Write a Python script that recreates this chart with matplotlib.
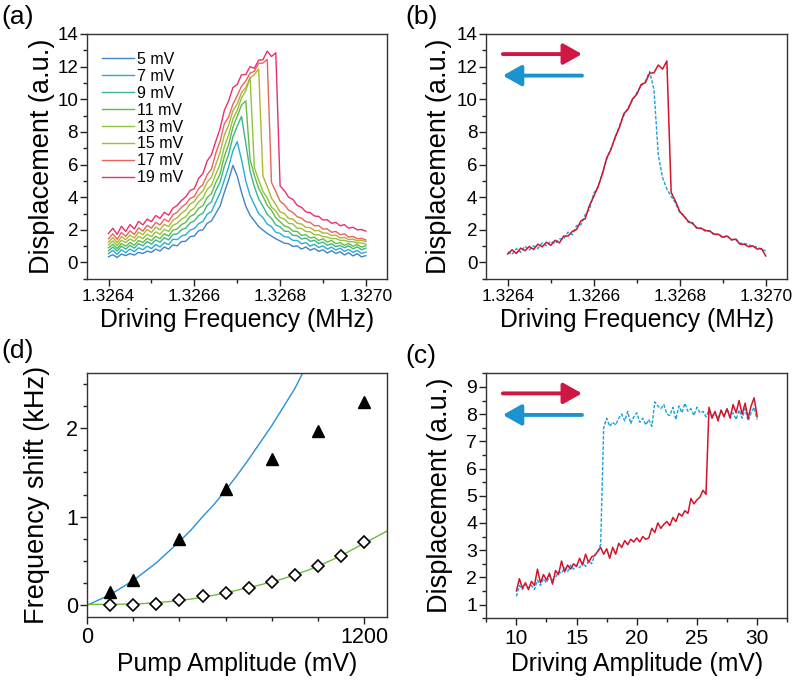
import numpy as np
import matplotlib
matplotlib.use('Agg')
import matplotlib.pyplot as plt
from matplotlib.ticker import MultipleLocator, FixedLocator, FormatStrFormatter

plt.rcParams['font.family'] = ['Liberation Sans', 'DejaVu Sans']
plt.rcParams['axes.linewidth'] = 1.0

# ---------------- data ----------------
freq_mhz = np.round(np.linspace(1.3264, 1.3270, 61), 6)

drive_labels = ['5 mV', '7 mV', '9 mV', '11 mV', '13 mV', '15 mV', '17 mV', '19 mV']
drive_colors = ['#4383c6', '#27aed3', '#3db587', '#62bb46', '#8ec53c', '#b3b333', '#e8655a', '#ea2f6c']

disp_5mV = [0.35, 0.48, 0.30, 0.52, 0.42, 0.55, 0.45, 0.62, 0.55, 0.70,
            0.62, 0.82, 0.70, 0.95, 0.82, 1.08, 1.02, 1.28, 1.30, 1.58,
            1.62, 1.95, 2.00, 2.40, 2.55, 3.00, 3.45, 4.30, 5.05, 5.95,
            5.30, 4.30, 3.45, 2.90, 2.55, 2.20, 1.98, 1.78, 1.62, 1.45,
            1.32, 1.18, 1.15, 0.98, 1.02, 0.82, 0.95, 0.75, 0.86, 0.68,
            0.78, 0.58, 0.72, 0.55, 0.66, 0.46, 0.60, 0.40, 0.54, 0.34, 0.42]
disp_7mV = [0.55, 0.75, 0.50, 0.78, 0.60, 0.82, 0.66, 0.90, 0.78, 1.00,
            0.85, 1.10, 0.95, 1.22, 1.10, 1.42, 1.40, 1.62, 1.70, 1.98,
            2.08, 2.38, 2.52, 2.95, 3.12, 3.70, 4.25, 5.05, 5.85, 6.85,
            7.40, 6.30, 5.00, 4.10, 3.55, 3.00, 2.75, 2.35, 2.20, 1.85,
            1.78, 1.58, 1.55, 1.35, 1.35, 1.15, 1.22, 1.00, 1.12, 0.92,
            1.02, 0.82, 0.94, 0.76, 0.88, 0.68, 0.80, 0.62, 0.74, 0.55, 0.64]
disp_9mV = [0.72, 0.95, 0.70, 1.00, 0.82, 1.05, 0.88, 1.15, 1.02, 1.28,
            1.12, 1.38, 1.24, 1.52, 1.38, 1.72, 1.75, 2.00, 2.10, 2.42,
            2.55, 2.88, 3.02, 3.50, 3.72, 4.40, 4.92, 5.90, 6.62, 7.70,
            8.35, 8.95, 7.30, 5.60, 4.65, 3.90, 3.45, 2.95, 2.70, 2.30,
            2.18, 1.92, 1.90, 1.66, 1.65, 1.44, 1.50, 1.30, 1.36, 1.16,
            1.25, 1.06, 1.15, 0.97, 1.05, 0.90, 1.02, 0.84, 0.96, 0.78, 0.88]
disp_11mV = [0.90, 1.12, 0.86, 1.16, 1.00, 1.22, 1.06, 1.35, 1.22, 1.48,
             1.34, 1.60, 1.46, 1.76, 1.62, 1.98, 2.05, 2.32, 2.45, 2.82,
             2.95, 3.32, 3.48, 3.98, 4.22, 4.90, 5.42, 6.50, 7.22, 8.30,
             8.95, 9.65, 9.90, 6.30, 5.35, 4.55, 4.05, 3.50, 3.20, 2.75,
             2.50, 2.24, 2.16, 1.92, 1.90, 1.66, 1.70, 1.50, 1.55, 1.35,
             1.45, 1.25, 1.35, 1.15, 1.22, 1.05, 1.16, 1.00, 1.10, 0.94, 1.02]
disp_13mV = [1.08, 1.32, 1.04, 1.36, 1.22, 1.44, 1.30, 1.60, 1.46, 1.74,
             1.58, 1.88, 1.72, 2.04, 1.90, 2.28, 2.40, 2.66, 2.80, 3.16,
             3.34, 3.72, 3.94, 4.48, 4.72, 5.40, 6.02, 7.10, 7.82, 8.80,
             9.32, 10.08, 10.52, 11.35, 5.80, 5.05, 4.35, 3.95, 3.40, 3.15,
             2.75, 2.66, 2.40, 2.36, 2.10, 2.08, 1.90, 1.88, 1.70, 1.70,
             1.58, 1.56, 1.46, 1.47, 1.35, 1.36, 1.27, 1.28, 1.19, 1.20, 1.12]
disp_15mV = [1.25, 1.52, 1.22, 1.58, 1.40, 1.68, 1.50, 1.86, 1.70, 2.02,
             1.84, 2.16, 2.00, 2.34, 2.20, 2.58, 2.74, 3.02, 3.20, 3.58,
             3.74, 4.12, 4.38, 4.92, 5.22, 6.00, 6.72, 7.80, 8.42, 9.30,
             9.72, 10.40, 10.72, 11.30, 11.52, 11.85, 5.30, 4.65, 3.95, 3.55,
             3.10, 3.00, 2.70, 2.66, 2.40, 2.36, 2.15, 2.14, 1.95, 1.96,
             1.80, 1.80, 1.65, 1.68, 1.50, 1.54, 1.40, 1.44, 1.32, 1.36, 1.28]
disp_17mV = [1.45, 1.76, 1.42, 1.84, 1.60, 1.94, 1.72, 2.12, 1.92, 2.28,
             2.10, 2.46, 2.30, 2.66, 2.50, 2.92, 3.08, 3.38, 3.58, 3.92,
             4.04, 4.52, 4.78, 5.38, 5.72, 6.70, 7.42, 8.50, 8.92, 9.70,
             10.22, 10.80, 11.12, 11.60, 11.72, 12.20, 12.22, 12.45, 4.90, 4.35,
             3.75, 3.55, 3.20, 3.06, 2.80, 2.72, 2.50, 2.46, 2.25, 2.26,
             2.05, 2.06, 1.85, 1.90, 1.70, 1.76, 1.55, 1.60, 1.45, 1.48, 1.38]
disp_19mV = [1.78, 2.10, 1.72, 2.22, 1.90, 2.32, 2.05, 2.52, 2.30, 2.66,
             2.50, 2.88, 2.70, 3.08, 2.90, 3.32, 3.50, 3.80, 4.02, 4.40,
             4.52, 5.15, 5.45, 6.22, 6.60, 7.42, 8.20, 9.32, 9.90, 10.72,
             10.90, 11.50, 11.52, 12.00, 11.90, 12.40, 12.42, 12.95, 12.62, 12.85,
             4.70, 4.40, 4.00, 3.86, 3.50, 3.38, 3.10, 3.06, 2.85, 2.82,
             2.60, 2.62, 2.40, 2.46, 2.25, 2.32, 2.10, 2.16, 2.00, 2.02, 1.92]
disp_series = [disp_5mV, disp_7mV, disp_9mV, disp_11mV,
               disp_13mV, disp_15mV, disp_17mV, disp_19mV]

# panel (b): frequency sweeps
sweep_up = [0.52, 0.78, 0.55, 0.88, 0.72, 0.98, 0.80, 1.12, 0.96, 1.24,
            1.05, 1.36, 1.20, 1.62, 1.62, 1.90, 2.02, 2.55, 2.68, 3.50,
            4.05, 4.65, 5.42, 6.40, 6.92, 7.70, 8.30, 9.12, 9.40, 10.02,
            10.30, 10.90, 11.02, 11.60, 11.62, 12.10, 11.85, 12.35, 4.30, 3.75,
            3.12, 2.82, 2.52, 2.38, 2.12, 2.08, 1.96, 1.92, 1.74, 1.72,
            1.55, 1.62, 1.40, 1.42, 1.12, 1.12, 0.96, 1.02, 0.82, 0.86, 0.40]
sweep_down = [0.65, 0.50, 0.85, 0.62, 1.00, 0.76, 1.02, 0.86, 1.20, 1.02,
              1.30, 1.15, 1.45, 1.44, 1.86, 1.70, 2.26, 2.30, 2.92, 3.25,
              4.25, 4.62, 5.48, 6.32, 7.00, 7.62, 8.40, 9.02, 9.50, 9.92,
              10.40, 10.82, 11.10, 11.70, 10.60, 6.60, 5.20, 4.50, 4.05, 3.65,
              3.05, 2.90, 2.45, 2.45, 2.05, 2.12, 1.90, 1.96, 1.66, 1.76,
              1.50, 1.66, 1.36, 1.46, 1.18, 1.16, 1.10, 0.96, 0.94, 0.80, 0.72]

# panel (c): amplitude sweeps
drive_mv = np.linspace(10, 30, 81)
amp_up = [1.50, 1.95, 1.60, 1.80, 1.55, 1.85, 1.70, 2.30, 1.80, 2.10,
          1.90, 2.15, 1.75, 2.25, 2.10, 2.60, 2.20, 2.45, 2.30, 2.50,
          2.40, 2.70, 2.45, 2.85, 2.55, 2.75, 2.80, 2.95, 3.10, 2.85,
          3.05, 2.70, 3.10, 2.85, 3.25, 3.10, 3.35, 3.20, 3.40, 3.30,
          3.45, 3.30, 3.50, 3.40, 3.45, 3.80, 3.65, 4.00, 3.80, 3.95,
          4.05, 3.90, 4.20, 4.05, 4.35, 4.25, 4.45, 4.35, 4.90, 4.70,
          4.85, 4.95, 5.20, 5.05, 8.25, 7.85, 8.10, 7.75, 8.15, 7.90,
          8.20, 7.85, 8.35, 8.05, 8.50, 8.00, 8.40, 7.85, 8.30, 8.60, 7.90]
amp_down = [1.30, 1.70, 1.55, 1.75, 1.60, 1.70, 1.55, 1.90, 1.70, 1.95,
            1.80, 2.05, 1.90, 2.00, 2.20, 2.15, 2.35, 2.20, 2.45, 2.30,
            2.45, 2.35, 2.55, 2.40, 2.60, 2.50, 2.80, 2.95, 3.20, 7.50,
            7.85, 7.55, 7.70, 7.60, 7.85, 8.00, 7.75, 8.10, 7.65, 7.90,
            8.05, 7.70, 7.85, 7.60, 7.80, 7.55, 8.45, 8.30, 8.20, 8.35,
            8.00, 7.95, 8.25, 7.80, 8.30, 8.05, 8.40, 8.10, 8.20, 7.95,
            8.25, 8.05, 8.10, 7.90, 8.15, 7.95, 8.00, 7.85, 8.10, 7.95,
            8.20, 7.90, 8.05, 7.80, 8.15, 7.85, 8.20, 7.75, 8.05, 8.25, 7.80]

# panel (d): frequency shift vs pump amplitude
tri_pump = [100, 200, 400, 600, 800, 1000, 1200]
tri_shift = [0.15, 0.28, 0.75, 1.31, 1.65, 1.97, 2.30]
dia_pump = [100, 200, 300, 400, 500, 600, 700, 800, 900, 1000, 1100, 1200]
dia_shift = [0.0, 0.0, 0.015, 0.056, 0.10, 0.14, 0.20, 0.26, 0.34, 0.44, 0.56, 0.72]
fit_blue_x = [0, 50, 100, 150, 200, 250, 300, 350, 400, 450, 500, 550, 600,
              650, 700, 750, 800, 850, 900, 935]
fit_blue_y = [0.0, 0.06, 0.12, 0.20, 0.28, 0.38, 0.48, 0.60, 0.72, 0.85, 1.00,
              1.14, 1.30, 1.47, 1.65, 1.84, 2.03, 2.24, 2.45, 2.63]
fit_green_x = [0, 50, 100, 150, 200, 250, 300, 350, 400, 450, 500, 550, 600, 650,
               700, 750, 800, 850, 900, 950, 1000, 1050, 1100, 1150, 1200, 1250, 1300]
fit_green_y = [0.01, 0.01, 0.01, 0.012, 0.015, 0.02, 0.03, 0.04, 0.055, 0.07, 0.09,
               0.113, 0.14, 0.17, 0.20, 0.23, 0.265, 0.30, 0.345, 0.39, 0.44,
               0.50, 0.56, 0.63, 0.70, 0.77, 0.84]

RED = '#d2142c'
BLUE = '#1ba0d8'
ARROW_RED = '#cf1744'
ARROW_BLUE = '#1a93cf'

XLABEL_FS = 17.8
YLABEL_FS = 19.5
TICK_FS = 12.5

fig = plt.figure(figsize=(7.92, 6.8), dpi=100)
ax_a = fig.add_axes([0.110, 0.590, 0.379, 0.360])
ax_b = fig.add_axes([0.614, 0.590, 0.380, 0.360])
ax_d = fig.add_axes([0.110, 0.093, 0.379, 0.358])
ax_c = fig.add_axes([0.614, 0.091, 0.380, 0.360])


def style(ax):
    ax.tick_params(which='both', direction='out', top=False, right=False,
                   labelsize=TICK_FS, width=1.0, colors='#222222', labelcolor='black',
                   pad=2.5)
    ax.tick_params(axis='y', labelsize=13.5, pad=1.5)
    ax.tick_params(which='major', length=5)
    ax.tick_params(which='minor', length=3)
    for s in ax.spines.values():
        s.set_color('#333333')


def freq_axes(ax):
    ax.set_xlim(1.32635, 1.32705)
    ax.set_ylim(-1, 14)
    ax.xaxis.set_major_locator(FixedLocator([1.3264, 1.3266, 1.3268, 1.3270]))
    ax.xaxis.set_minor_locator(FixedLocator([1.3265, 1.3267, 1.3269]))
    ax.xaxis.set_major_formatter(FormatStrFormatter('%.4f'))
    ax.yaxis.set_major_locator(MultipleLocator(2))
    ax.yaxis.set_minor_locator(MultipleLocator(1))
    ax.set_xlabel('Driving Frequency (MHz)', fontsize=XLABEL_FS, labelpad=3)
    ax.set_ylabel('Displacement (a.u.)', fontsize=YLABEL_FS)
    style(ax)


def arrows(ax):
    ax.annotate('', xy=(0.318, 0.918), xytext=(0.055, 0.918), xycoords='axes fraction',
                arrowprops=dict(arrowstyle='-|>,head_length=0.8,head_width=0.45',
                                color=ARROW_RED, lw=2.8, mutation_scale=14,
                                shrinkA=0, shrinkB=0))
    ax.annotate('', xy=(0.055, 0.830), xytext=(0.318, 0.830), xycoords='axes fraction',
                arrowprops=dict(arrowstyle='-|>,head_length=0.8,head_width=0.45',
                                color=ARROW_BLUE, lw=2.8, mutation_scale=14,
                                shrinkA=0, shrinkB=0))


# (a)
for lab, col, vals in zip(drive_labels, drive_colors, disp_series):
    ax_a.plot(freq_mhz, vals, color=col, lw=1.0, label=lab)
freq_axes(ax_a)
ax_a.yaxis.set_label_coords(-0.107, 0.5)
ax_a.legend(loc='upper left', bbox_to_anchor=(0.04, 0.94), frameon=False,
            fontsize=11.5, handlelength=2.0, handletextpad=0.15, labelspacing=0.12,
            borderaxespad=0, borderpad=0.2)

# (b)
ax_b.plot(freq_mhz, sweep_down, color=BLUE, lw=1.0, ls=(0, (2.5, 1.2)))
ax_b.plot(freq_mhz, sweep_up, color=RED, lw=1.1)
freq_axes(ax_b)
ax_b.yaxis.set_label_coords(-0.114, 0.5)
arrows(ax_b)

# (c)
ax_c.plot(drive_mv, amp_down, color=BLUE, lw=1.0, ls=(0, (2.5, 1.2)))
ax_c.plot(drive_mv, amp_up, color=RED, lw=1.1)
ax_c.set_xlim(7.5, 32.5)
ax_c.set_ylim(0.5, 9.5)
ax_c.xaxis.set_major_locator(MultipleLocator(5))
ax_c.xaxis.set_minor_locator(MultipleLocator(2.5))
ax_c.yaxis.set_major_locator(MultipleLocator(1))
ax_c.yaxis.set_minor_locator(MultipleLocator(0.5))
ax_c.set_xlabel('Driving Amplitude (mV)', fontsize=XLABEL_FS, labelpad=3)
ax_c.set_ylabel('Displacement (a.u.)', fontsize=YLABEL_FS)
style(ax_c)
ax_c.tick_params(axis='x', labelsize=15)
ax_c.tick_params(axis='y', labelsize=14)
ax_c.yaxis.set_label_coords(-0.11, 0.5)
arrows(ax_c)

# (d)
ax_d.plot(fit_blue_x, fit_blue_y, color='#2a8fd4', lw=1.0)
ax_d.plot(fit_green_x, fit_green_y, color='#6dbd3a', lw=1.0)
ax_d.plot(tri_pump, tri_shift, ls='none', marker='^', ms=9, color='black')
ax_d.plot(dia_pump, dia_shift, ls='none', marker='D', ms=6.5, mfc='white',
          mec='black', mew=1.2)
ax_d.set_xlim(0, 1300)
ax_d.set_ylim(-0.13, 2.62)
ax_d.xaxis.set_major_locator(FixedLocator([0, 1200]))
ax_d.xaxis.set_minor_locator(FixedLocator([200, 400, 600, 800, 1000]))
ax_d.yaxis.set_major_locator(MultipleLocator(1))
ax_d.yaxis.set_minor_locator(MultipleLocator(0.25))
ax_d.set_xlabel('Pump Amplitude (mV)', fontsize=XLABEL_FS, labelpad=3)
ax_d.set_ylabel('Frequency shift (kHz)', fontsize=YLABEL_FS)
style(ax_d)
ax_d.tick_params(axis='y', labelsize=15.5)
ax_d.tick_params(axis='x', labelsize=15.5)
ax_d.yaxis.set_label_coords(-0.123, 0.5)

# panel letters
fig.text(0.002, 0.975, '(a)', fontsize=19, ha='left', va='center')
fig.text(0.512, 0.975, '(b)', fontsize=19, ha='left', va='center')
fig.text(0.002, 0.484, '(d)', fontsize=19, ha='left', va='center')
fig.text(0.512, 0.477, '(c)', fontsize=19, ha='left', va='center')

fig.savefig('out.png', dpi=100)
